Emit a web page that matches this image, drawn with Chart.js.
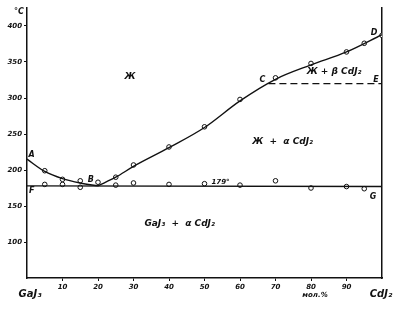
<!DOCTYPE html>
<html>
<head>
<meta charset="utf-8">
<script src="https://cdn.jsdelivr.net/npm/chart.js@4"></script>
<style>
  html, body { margin: 0; padding: 0; background: #fff; }
  #wrap { width: 400px; height: 311px; }
</style>
</head>
<body>
<div id="wrap"><canvas id="diagram"></canvas></div>
<script>
// --- data (x = mol.% CdJ2, T = °C) ---
// measured points on the liquidus
const liqX = [5, 10, 15, 20, 25, 30, 40, 50, 60, 70, 80, 90, 95, 100];
const liqT = [199, 187, 185, 183, 190, 207, 232, 260, 298, 328, 348, 364, 376, 387];
// measured points on the eutectic horizontal
const solX = [5, 10, 15, 25, 30, 40, 50, 60, 70, 80, 90, 95];
const solT = [180, 180, 176, 179, 182, 180, 181, 179, 185, 175, 177, 174];
// drawn curves
const branchAX = [0, 5, 10, 15, 20];
const branchAT = [215, 198, 188, 182, 178];
const branchBX = [20, 25, 30, 40, 50, 60, 70, 80, 90, 100];
const branchBT = [178, 190, 205, 231, 259, 296, 326, 346, 364, 388];
const eutX = [0, 100];
const eutT = [178, 177];
const perX = [68, 100];
const perT = [320, 320];
// axis ticks
const xTicks = [10, 20, 30, 40, 50, 60, 70, 80, 90];
const yTicks = [100, 150, 200, 250, 300, 350, 400];

// labels inside the diagram (data coords)
const regionText = ['Ж', 'Ж + β CdJ₂', 'Ж  +  α CdJ₂', 'GaJ₃  +  α CdJ₂', '179°'];
const regionX = [29, 86.5, 72, 43, 54.5];
const regionT = [329, 336, 239, 126, 183];
const pointText = ['A', 'B', 'C', 'D', 'E', 'F', 'G'];
const pointX = [1.3, 18, 66.3, 97.8, 98.3, 1.3, 97.5];
const pointT = [221, 186, 325, 391, 325, 171, 162];

const ink = '#111';
const tickFont = { family: 'DejaVu Sans', size: 7, style: 'italic', weight: 'bold' };

const zip = (xs, ys) => xs.map((x, i) => ({ x: x, y: ys[i] }));

const textPlugin = {
    id: 'phaseText',
    afterDatasetsDraw(chart) {
        const ctx = chart.ctx;
        const sx = chart.scales.x, sy = chart.scales.y;
        const area = chart.chartArea;
        ctx.save();
        ctx.fillStyle = ink;
        ctx.textAlign = 'center';
        ctx.textBaseline = 'middle';

        regionText.forEach((t, i) => {
            if (t === '179°') ctx.font = 'italic bold 7px "DejaVu Sans"';
            else ctx.font = 'italic bold 9px "DejaVu Sans"';
            ctx.fillText(t, sx.getPixelForValue(regionX[i]), sy.getPixelForValue(regionT[i]));
        });

        ctx.font = 'italic bold 8px "DejaVu Sans"';
        pointText.forEach((t, i) => {
            ctx.fillText(t, sx.getPixelForValue(pointX[i]), sy.getPixelForValue(pointT[i]));
        });

        // axis captions
        ctx.font = 'italic bold 8px "DejaVu Sans"';
        ctx.fillText('°C', area.left - 8, 12);
        ctx.font = 'italic bold 10px "DejaVu Sans"';
        ctx.fillText('GaJ₃', 30, area.bottom + 16);
        ctx.fillText('CdJ₂', 381, area.bottom + 16);
        ctx.font = 'italic bold 7px "DejaVu Sans"';
        ctx.fillText('мол.%', 315, area.bottom + 17);
        ctx.restore();
    }
};

const curve = (data, dash) => ({
    data: data,
    showLine: true,
    borderColor: ink,
    borderWidth: 1.4,
    borderDash: dash || [],
    pointRadius: 0,
    cubicInterpolationMode: 'monotone',
    fill: false
});
const marks = data => ({
    data: data,
    showLine: false,
    pointRadius: 2.3,
    pointBackgroundColor: '#fff',
    pointBorderColor: ink,
    pointBorderWidth: 1
});

new Chart(document.getElementById('diagram'), {
    type: 'scatter',
    data: {
        datasets: [
            curve(zip(branchAX, branchAT)),
            curve(zip(branchBX, branchBT)),
            curve(zip(eutX, eutT)),
            curve(zip(perX, perT), [7, 4]),
            marks(zip(liqX, liqT)),
            marks(zip(solX, solT))
        ]
    },
    options: {
        responsive: true,
        maintainAspectRatio: false,
        animation: false,
        layout: { padding: { top: 8, left: 0, right: 0, bottom: 0 } },
        plugins: { legend: { display: false }, tooltip: { enabled: false } },
        scales: {
            x: {
                type: 'linear', min: 0, max: 100,
                afterBuildTicks: s => { s.ticks = xTicks.map(v => ({ value: v })); },
                afterFit: s => { s.height = 33; },
                ticks: { font: tickFont, color: ink, padding: 2, maxRotation: 0 },
                grid: { drawOnChartArea: false, tickLength: 3, color: ink, lineWidth: 1 },
                border: { color: ink, width: 1.5 }
            },
            y: {
                type: 'linear', min: 50, max: 425,
                afterBuildTicks: s => { s.ticks = yTicks.map(v => ({ value: v })); },
                afterFit: s => { s.width = 27; },
                ticks: { font: tickFont, color: ink, padding: 2 },
                grid: { drawOnChartArea: false, tickLength: 3, color: ink, lineWidth: 1 },
                border: { color: ink, width: 1.5 }
            },
            y2: {
                type: 'linear', position: 'right', min: 50, max: 425,
                afterFit: s => { s.width = 18; },
                ticks: { display: false },
                grid: { display: false, drawTicks: false },
                border: { display: true, color: ink, width: 1.5 }
            }
        }
    },
    plugins: [textPlugin]
});
</script>
</body>
</html>
